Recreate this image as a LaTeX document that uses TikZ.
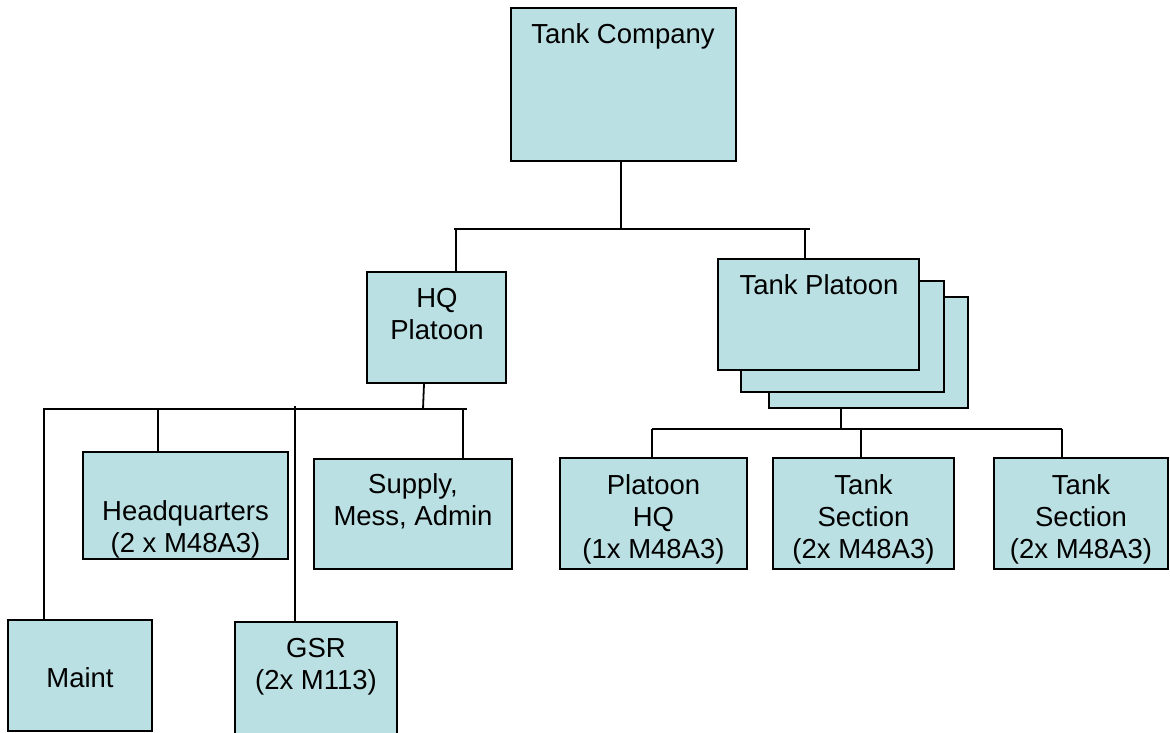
\documentclass[tikz,border=0pt]{standalone}
\usepackage{fontspec}
\setmainfont{Liberation Sans}
\definecolor{boxfill}{HTML}{BBE0E3}
\begin{document}
\begin{tikzpicture}[x=1pt,y=-1pt,
  box/.style={draw=black, line width=2pt, fill=boxfill, rectangle, inner sep=0pt},
  txt/.style={anchor=north, align=center, inner sep=0pt, font=\fontsize{27.5}{32}\selectfont},
  link/.style={draw=black, line width=1.8pt}]
\useasboundingbox (0,0) rectangle (1170,732);
\clip (0,0) rectangle (1170,732);
\fill[white] (0,0) rectangle (1170,732);
% boxes
\node[box, minimum width=225, minimum height=153] (tc) at (623.5,84.5) {};
\node[box, minimum width=139, minimum height=111] (hq) at (436.5,327.5) {};
\node[box, minimum width=199, minimum height=111] (tp3) at (868.5,352.5) {};
\node[box, minimum width=203, minimum height=111] (tp2) at (842.5,336.5) {};
\node[box, minimum width=201, minimum height=111] (tp1) at (818.5,314.5) {};
\node[box, minimum width=205, minimum height=107] (hqs) at (185.5,505.5) {};
\node[box, minimum width=198, minimum height=110] (sma) at (413,514) {};
\node[box, minimum width=144, minimum height=111] (maint) at (80,675) {};
\node[box, minimum width=162, minimum height=120] (gsr) at (316,682) {};
\node[box, minimum width=187, minimum height=111] (pph) at (653.5,513.5) {};
\node[box, minimum width=181, minimum height=111] (ts1) at (863.5,513.5) {};
\node[box, minimum width=174, minimum height=111] (ts2) at (1081,513.5) {};
% texts
\node[txt] (tct) at (623,23.5) {Tank Company};
\node[txt] (hqt) at (437,288) {HQ\\ Platoon};
\node[txt] (tpt) at (819,274) {Tank Platoon};
\node[txt] (hqst) at (185.5,500) {Headquarters\\(2 x M48A3)};
\node[txt] (smat) at (413,473) {Supply,\\Mess, Admin};
\node[txt] (maintt) at (80,667) {Maint};
\node[txt] (gsrt) at (316,638) {GSR\\(2x M113)};
\node[txt] (ppht) at (653.5,474) {Platoon\\HQ\\(1x M48A3)};
\node[txt] (ts1t) at (863.5,474) {Tank\\Section\\(2x M48A3)};
\node[txt] (ts2t) at (1081,474) {Tank\\Section\\(2x M48A3)};
% bus coordinates
\coordinate (b1l) at (454,229);
\coordinate (b1r) at (810,229);
\coordinate (b2l) at (43,409);
\coordinate (b2r) at (467,409);
\coordinate (b3l) at (652,429);
\coordinate (b3r) at (1062,429);
% level 1
\draw[link] (tc.south -| 621,0) -- (621,229);
\draw[link] (b1l) -- (b1r);
\draw[link] (456,229) -- (hq.north -| 456,0);
\draw[link] (805,229) -- (tp1.north -| 805,0);
% HQ platoon
\draw[link] (hq.south -| 424,0) -- (423,409);
\draw[link] (b2l) -- (b2r);
\draw[link] (44,409) -- (maint.north -| 44,0);
\draw[link] (158,409) -- (hqs.north -| 158,0);
\draw[link] (295,406) -- (gsr.north -| 295,0);
\draw[link] (463,409) -- (sma.north -| 463,0);
% tank platoon
\draw[link] (tp3.south -| 841,0) -- (841,429);
\draw[link] (b3l) -- (b3r);
\draw[link] (b3l) -- (pph.north -| b3l);
\draw[link] (861,429) -- (ts1.north -| 861,0);
\draw[link] (b3r) -- (ts2.north -| b3r);
\end{tikzpicture}
\end{document}
